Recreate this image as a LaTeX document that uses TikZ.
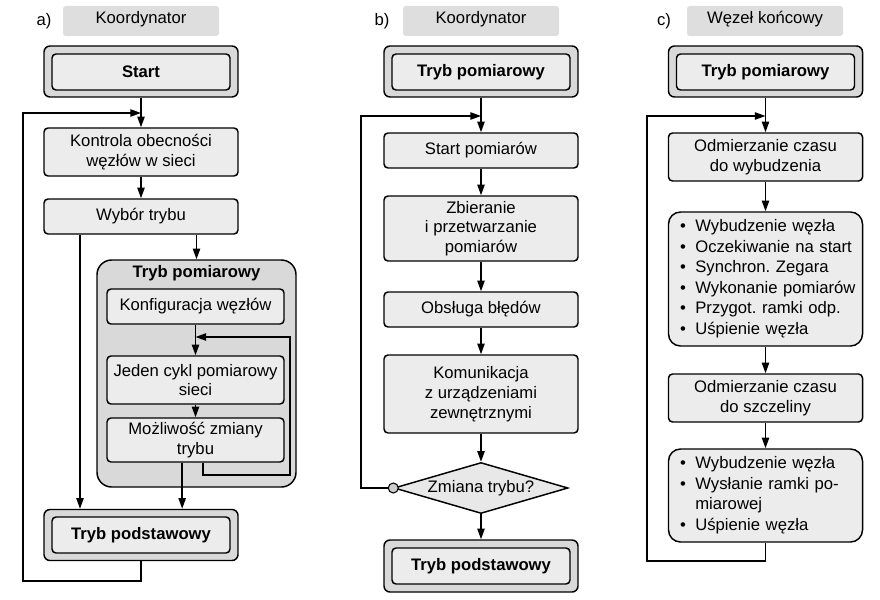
\documentclass[tikz,border=0pt]{standalone}
\usepackage{fontspec}
\setmainfont{Liberation Sans}
\usepackage{tikz}
\usetikzlibrary{shapes, arrows.meta, positioning}
\renewcommand{\arraystretch}{1.04}
\newcommand{\diafont}{\fontsize{12.5pt}{14.8pt}\selectfont}

\definecolor{boxgray}{RGB}{236,236,236}
\definecolor{bandgray}{RGB}{217,217,217}
\definecolor{headgray}{RGB}{222,222,222}
\definecolor{diagray}{RGB}{232,232,232}
\definecolor{dotgray}{RGB}{205,205,205}

\begin{document}
\frenchspacing
\begin{tikzpicture}[x=0.75pt, y=-0.75pt, line width=1.1pt, >={Triangle[length=8pt,width=5.5pt]},
  font=\diafont,
  box/.style={draw, rounded corners=3pt, fill=boxgray, minimum width=145.5pt, minimum height=26.25pt, align=center, inner sep=2pt},
  subbox/.style={box, minimum width=132.75pt},
  outbox/.style={draw, rounded corners=4.5pt, fill=bandgray, minimum width=145.5pt, minimum height=38.25pt},
  inbox/.style={draw, rounded corners=3pt, fill=boxgray, minimum width=133.5pt, minimum height=27pt, font=\diafont\bfseries},
  headbox/.style={fill=headgray, rounded corners=2pt, minimum width=117pt, minimum height=22.5pt, text depth=5pt},
  groupbox/.style={draw, rounded corners=11pt, fill=bandgray, minimum width=149.25pt, minimum height=170.25pt},
  listbox/.style={draw, rounded corners=9pt, fill=boxgray, text width=128pt, inner xsep=8.75pt, align=left},
  decision/.style={draw, diamond, aspect=3.4, fill=diagray, minimum width=130.5pt, minimum height=38.25pt, inner sep=0pt},
  dot/.style={draw, circle, fill=dotgray, minimum size=7.5pt, inner sep=0pt, line width=0.8pt}]
  \useasboundingbox (0,0) rectangle (880,599);

  % a) Koordynator
  \node (etya) at (44,21) {a)};
  \node[headbox] (heada) at (141,21) {Koordynator};
  \node[outbox] (startao) at (141,71.5) {};
  \node[inbox] (starta) at (141,72) {Start};
  \node[box, minimum height=36pt] (kontrola) at (141,152) {Kontrola obecności\\węzłów w sieci};
  \node[box] (wybor) at (141,216.5) {Wybór trybu};
  \node[groupbox] (grupa) at (196.5,373.5) {};
  \node[font=\diafont\bfseries] (grupatyt) at (196.5,273) {Tryb pomiarowy};
  \node[subbox] (konfig) at (195.5,306.5) {Konfiguracja węzłów};
  \node[subbox, minimum height=36pt] (cykl) at (195.5,380) {Jeden cykl pomiarowy\\sieci};
  \node[subbox, minimum height=33pt] (zmianaa) at (195.5,440) {Możliwość zmiany\\trybu};
  \node[outbox] (podstao) at (141,535) {};
  \node[inbox] (podsta) at (141,535) {Tryb podstawowy};
  \coordinate (ja) at (141,113);
  \coordinate (jg) at (195.5,337);
  \coordinate (roga) at (23,581);
  \coordinate (rogg) at (290,475);

  \draw[->] (startao) -- (kontrola);
  \draw[->] (kontrola) -- (wybor);
  \draw[->] (wybor.south -| grupa.north) -- (grupa.north);
  \draw[->] ([xshift=-45.75pt]wybor.south) -- ([xshift=-45.75pt]podstao.north);
  \draw[->] (konfig) -- (cykl);
  \draw[->] (cykl) -- (zmianaa);
  \draw[->] ([xshift=-10pt]zmianaa.south) -- ([xshift=-10pt]zmianaa.south |- podstao.north);
  \draw[->] ([xshift=5.6pt]zmianaa.south) |- (rogg) |- (jg);
  \draw[->] (podstao.south) |- (roga) |- (ja);

  % b) Koordynator
  \node (etyb) at (382,21) {b)};
  \node[headbox] (headb) at (481,21) {Koordynator};
  \node[outbox] (pomiarbo) at (481,71.5) {};
  \node[inbox] (pomiarb) at (481,72) {Tryb pomiarowy};
  \node[box] (startp) at (481,150.5) {Start pomiarów};
  \node[box, minimum height=48.75pt] (zbieranie) at (481,228.5) {Zbieranie\\i przetwarzanie\\pomiarów};
  \node[box] (obsluga) at (481,309.5) {Obsługa błędów};
  \node[box, minimum height=58.5pt] (komunik) at (481,394) {Komunikacja\\z urządzeniami\\zewnętrznymi};
  \node[decision] (zmianab) at (481,488) {Zmiana trybu?};
  \node[dot] (kolko) at (zmianab.west) {};
  \node[outbox, minimum height=39pt] (podstbo) at (481,566) {};
  \node[inbox] (podstb) at (481,566) {Tryb podstawowy};
  \coordinate (jb) at (481,116);
  \coordinate (rogb) at (361,116);

  \draw[->] (pomiarbo) -- (startp);
  \draw[->] (startp) -- (zbieranie);
  \draw[->] (zbieranie) -- (obsluga);
  \draw[->] (obsluga) -- (komunik);
  \draw[->] (komunik) -- (zmianab);
  \draw[->] (zmianab) -- (podstbo);
  \draw[->] (kolko) -| (rogb) -- (jb);

  % c) Wezel koncowy
  \node (etyc) at (664,21) {c)};
  \node[headbox] (headc) at (765,21) {Węzeł końcowy};
  \node[outbox] (pomiarco) at (765.5,71.5) {};
  \node[inbox] (pomiarc) at (765.5,72) {Tryb pomiarowy};
  \node[box, minimum height=36pt] (odmierz1) at (765.5,157) {Odmierzanie czasu\\do wybudzenia};
  \node[listbox, minimum height=100.5pt] (lista1) at (765.5,279) {%
    \begin{tabular}{@{}l@{\hspace{7pt}}l@{}}
      \textbullet & Wybudzenie węzła\\
      \textbullet & Oczekiwanie na start\\
      \textbullet & Synchron. Zegara\\
      \textbullet & Wykonanie pomiarów\\
      \textbullet & Przygot. ramki odp.\\
      \textbullet & Uśpienie węzła
    \end{tabular}};
  \node[box, minimum height=36pt] (odmierz2) at (765.5,398) {Odmierzanie czasu\\do szczeliny};
  \node[listbox, minimum height=69.75pt] (lista2) at (765.5,495.5) {%
    \begin{tabular}{@{}l@{\hspace{7pt}}l@{}}
      \textbullet & Wybudzenie węzła\\
      \textbullet & Wysłanie ramki po-\\
                  & miarowej\\
      \textbullet & Uśpienie węzła
    \end{tabular}};
  \coordinate (jc) at (765.5,116);
  \coordinate (rogc) at (647,561);

  \draw[->] (pomiarco) -- (odmierz1);
  \draw[->] (odmierz1) -- (lista1);
  \draw[->] (lista1) -- (odmierz2);
  \draw[->] (odmierz2) -- (lista2);
  \draw[->] (lista2) |- (rogc) |- (jc);
\end{tikzpicture}
\end{document}
